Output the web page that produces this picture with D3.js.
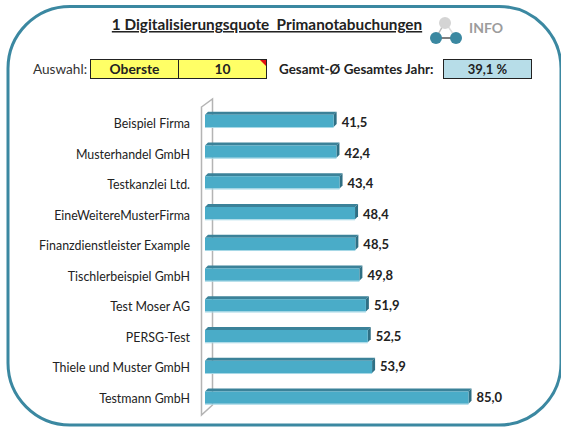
<!doctype html>
<html lang="de">
<head>
  <meta charset="UTF-8">
  <title>Digitalisierungsquote</title>
  <script src="https://cdn.jsdelivr.net/npm/d3@7"></script>
  <style>
    html, body { margin: 0; padding: 0; background: #fff; }
    svg { display: block; }
    text { font-family: Lato, "Open Sans", sans-serif; fill: #222; }
  </style>
</head>
<body>
<div id="app"></div>
<script>
  var categories = ['Beispiel Firma', 'Musterhandel GmbH', 'Testkanzlei Ltd.', 'EineWeitereMusterFirma',
    'Finanzdienstleister Example', 'Tischlerbeispiel GmbH', 'Test Moser AG', 'PERSG-Test',
    'Thiele und Muster GmbH', 'Testmann GmbH'];
  var values = [41.5, 42.4, 43.4, 48.4, 48.5, 49.8, 51.9, 52.5, 53.9, 85.0];
  var titleText = '1 Digitalisierungsquote  Primanotabuchungen';
  var selection = ['Oberste', '10'];
  var averageLabel = 'Gesamt-Ø Gesamtes Jahr:';
  var averageValue = '39,1 %';

  var width = 561;
  var height = 427;
  var depth = 3;

  var svg = d3.select('#app').append('svg')
    .attr('width', width)
    .attr('height', height);

  var fmt = d3.format('.1f');

  // outer frame
  svg.append('rect')
    .attr('x', 8).attr('y', 6.5)
    .attr('width', 553).attr('height', 418.5)
    .attr('rx', 62).attr('ry', 62)
    .attr('fill', '#fff')
    .attr('stroke', '#3b88a1')
    .attr('stroke-width', 3);

  // title
  svg.append('text')
    .attr('x', 267).attr('y', 30)
    .attr('text-anchor', 'middle')
    .attr('font-size', 15.3)
    .attr('font-weight', 700)
    .style('white-space', 'pre')
    .attr('text-decoration', 'underline')
    .text(titleText);

  // info icon
  var icon = svg.append('g');
  icon.append('path').attr('d', 'M436 38 L445 22').attr('stroke', '#bbb').attr('stroke-width', 1.5);
  icon.append('path').attr('d', 'M436 38 L456 38').attr('stroke', '#555').attr('stroke-width', 1.5);
  icon.append('path').attr('d', 'M445 22 L456 38').attr('stroke', '#ddd').attr('stroke-width', 1.5);
  icon.append('circle').attr('cx', 445).attr('cy', 23).attr('r', 6).attr('fill', '#d4d4d4');
  icon.append('circle').attr('cx', 436).attr('cy', 38).attr('r', 6).attr('fill', '#3b88a1');
  icon.append('circle').attr('cx', 456).attr('cy', 38).attr('r', 6).attr('fill', '#3b88a1');
  svg.append('text')
    .attr('x', 469).attr('y', 33)
    .attr('font-size', 14).attr('font-weight', 700)
    .style('fill', '#9c9c9c')
    .text('INFO');

  // selection cells
  svg.append('text')
    .attr('x', 33).attr('y', 74)
    .attr('font-size', 13.6)
    .style('fill', '#333')
    .text('Auswahl:');
  var cellX = d3.scaleOrdinal().domain(selection).range([90.5, 178.5]);
  svg.selectAll('rect.cell')
    .data(selection)
    .enter()
    .append('rect')
    .attr('class', 'cell')
    .attr('x', d => cellX(d))
    .attr('y', 59.5)
    .attr('width', 88)
    .attr('height', 19)
    .attr('fill', '#ffff66')
    .attr('stroke', '#222');
  svg.selectAll('text.cell')
    .data(selection)
    .enter()
    .append('text')
    .attr('class', 'cell')
    .attr('x', d => cellX(d) + 44)
    .attr('y', 74)
    .attr('text-anchor', 'middle')
    .attr('font-size', 13.8)
    .attr('font-weight', 700)
    .text(d => d);
  svg.append('path').attr('d', 'M260 60 L266 60 L266 66 Z').attr('fill', '#e01010');

  // average
  svg.append('text')
    .attr('x', 279).attr('y', 74)
    .attr('font-size', 13.4).attr('font-weight', 700)
    .text(averageLabel);
  svg.append('rect')
    .attr('x', 443.5).attr('y', 59.5)
    .attr('width', 88).attr('height', 19)
    .attr('fill', '#b7dde8')
    .attr('stroke', '#222');
  svg.append('text')
    .attr('x', 487.5).attr('y', 74)
    .attr('text-anchor', 'middle')
    .attr('font-size', 13).attr('font-weight', 700)
    .text(averageValue);

  // chart
  var x = d3.scaleLinear().domain([0, 85]).range([205, 468.5]);
  var y = d3.scaleBand().domain(categories).range([105.5, 413]).paddingInner(0.6).paddingOuter(0.3);
  // the labels sit on a slightly tighter spacing than the bars
  var catY = d3.scalePoint().domain(categories).range([128, 402.5]);
  var valueY = d3.scalePoint().domain(categories).range([127, 401.5]);

  // back wall
  svg.append('path')
    .attr('d', 'M201.5 107 L212.5 99 L212.5 405 L201.5 415 Z')
    .attr('fill', '#fff')
    .attr('stroke', '#b4b4b4')
    .attr('stroke-width', 1.5);

  var bars = svg.selectAll('g.bar')
    .data(values)
    .enter()
    .append('g')
    .attr('class', 'bar');

  // top face
  bars.append('path')
    .attr('d', (d, i) => {
      var y0 = y(categories[i]);
      return 'M' + x(0) + ' ' + y0 + ' L' + (x(0) + depth) + ' ' + (y0 - depth) +
        ' L' + (x(d) + depth) + ' ' + (y0 - depth) + ' L' + x(d) + ' ' + y0 + ' Z';
    })
    .attr('fill', '#3b8299');

  // side face
  bars.append('path')
    .attr('d', (d, i) => {
      var y0 = y(categories[i]);
      var y1 = y0 + y.bandwidth();
      return 'M' + x(d) + ' ' + y0 + ' L' + (x(d) + depth) + ' ' + (y0 - depth) +
        ' L' + (x(d) + depth) + ' ' + (y1 - depth) + ' L' + x(d) + ' ' + y1 + ' Z';
    })
    .attr('fill', '#2f6f84');

  // front face
  bars.append('rect')
    .attr('x', x(0))
    .attr('y', (d, i) => y(categories[i]))
    .attr('width', d => x(d) - x(0))
    .attr('height', y.bandwidth())
    .attr('fill', '#4aacc8');

  // pale lower edge of the bar
  bars.append('rect')
    .attr('x', x(0))
    .attr('y', (d, i) => y(categories[i]) + y.bandwidth())
    .attr('width', d => x(d) - x(0))
    .attr('height', 1)
    .attr('fill', '#a5d8e6');

  // value labels
  bars.append('text')
    .attr('x', d => x(d) + 8)
    .attr('y', (d, i) => valueY(categories[i]))
    .attr('font-size', 13)
    .attr('font-weight', 700)
    .text(d => fmt(d).replace('.', ','));

  // category labels
  svg.selectAll('text.cat')
    .data(categories)
    .enter()
    .append('text')
    .attr('class', 'cat')
    .attr('x', 190)
    .attr('y', d => catY(d))
    .attr('text-anchor', 'end')
    .attr('font-size', 12.4)
    .text(d => d);
</script>
</body>
</html>
